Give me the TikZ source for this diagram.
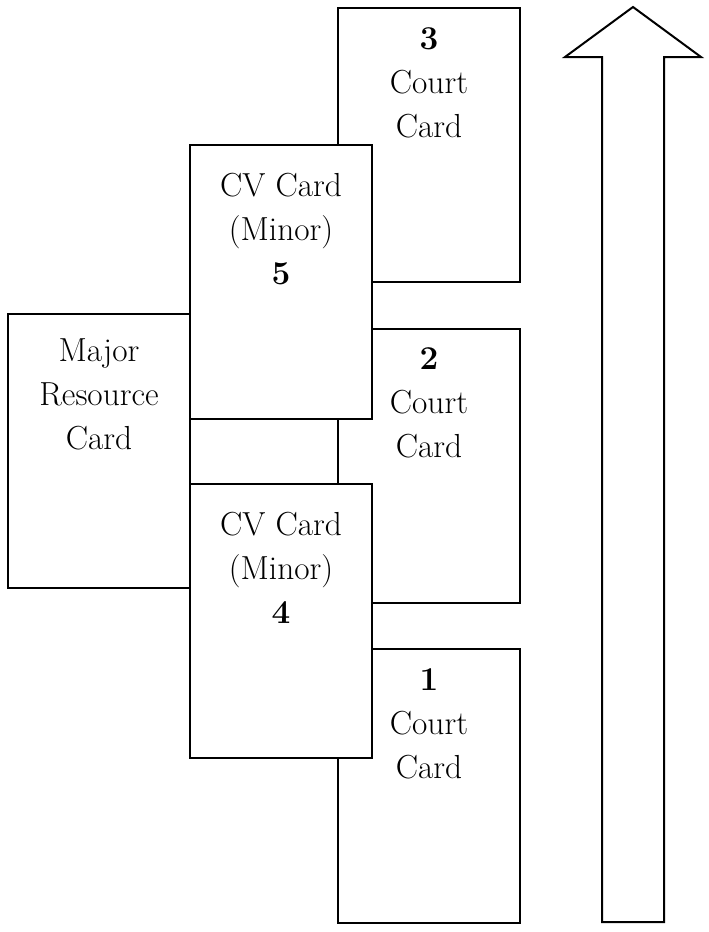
\documentclass[tikz,border=0pt]{standalone}
\usepackage{fontspec}
\usetikzlibrary{positioning}

\tikzset{
  card/.style={draw, line width=1.5pt, fill=white, minimum width=136.5pt, minimum height=205.5pt, inner sep=0pt},
  cardtext/.style={anchor=north, align=center, inner sep=0pt, font=\fontsize{25}{33}\selectfont},
}

\begin{document}
\begin{tikzpicture}[x=0.75pt, y=-0.75pt]
\useasboundingbox (0,0) rectangle (709,932);

% cards at the back
\node[card] (major) at (99,451) {};
\node[card] (court3) at (429,145) {};
\node[card] (court2) at (429,465.5) {};
\node[card] (court1) at (429,786) {};

% minor cards on top
\node[card] (cv5) at (281,281.5) {};
\node[card] (cv4) at (281,620.5) {};

% card texts
\node[cardtext, below=19pt of major.north] (majortext) {Major\\Resource\\Card};
\node[cardtext, below=15pt of court3.north] (court3text) {\textbf{3}\\Court\\Card};
\node[cardtext, below=15pt of court2.north] (court2text) {\textbf{2}\\Court\\Card};
\node[cardtext, below=15pt of court1.north] (court1text) {\textbf{1}\\Court\\Card};
\node[cardtext, below=22pt of cv5.north] (cv5text) {CV Card\\(Minor)\\\textbf{5}};
\node[cardtext, below=22pt of cv4.north] (cv4text) {CV Card\\(Minor)\\\textbf{4}};

% order arrow
\draw[line width=1.5pt, line join=miter] (633,7) -- (701,57) -- (664,57) -- (664,922)
  -- (602,922) -- (602,57) -- (565,57) -- cycle;
\end{tikzpicture}
\end{document}
